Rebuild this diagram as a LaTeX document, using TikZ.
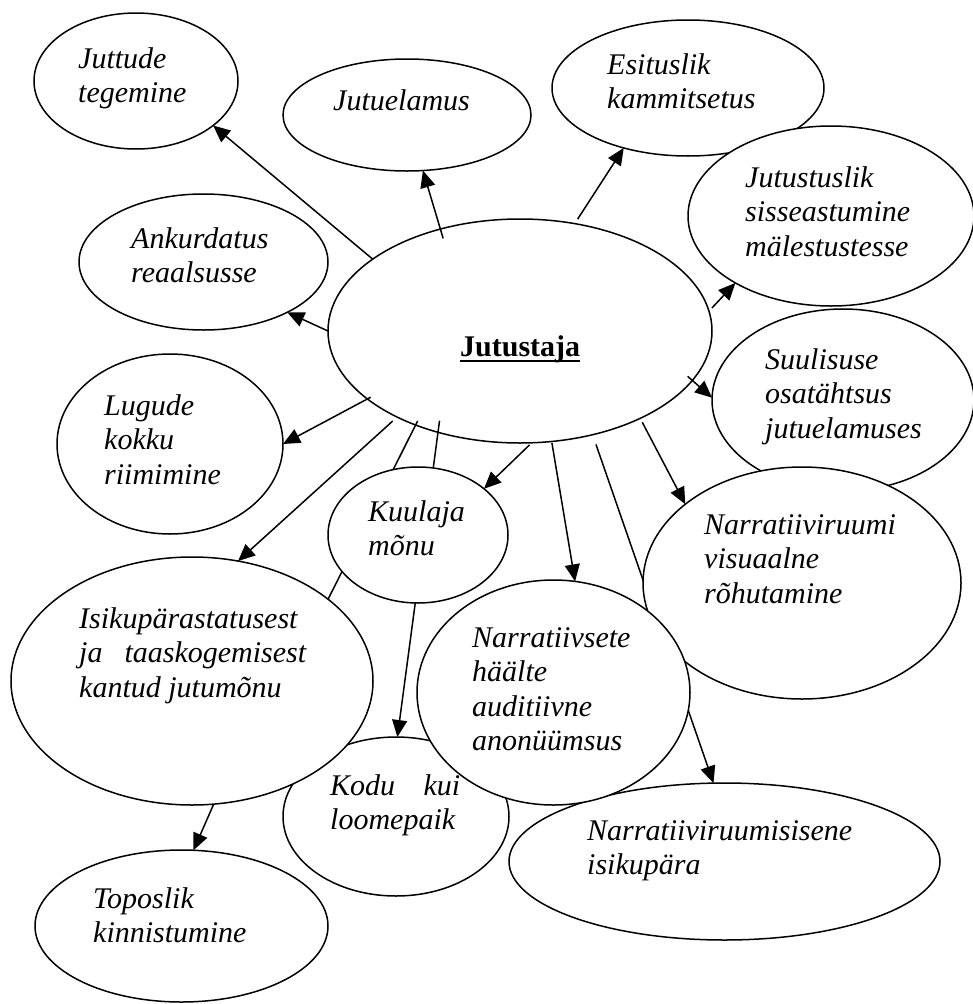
\documentclass[tikz,border=0pt]{standalone}
\usepackage{fontspec}
\setmainfont{Liberation Serif}
\usetikzlibrary{shapes.geometric,arrows.meta}
\pgfdeclarelayer{base}
\pgfdeclarelayer{links}
\pgfdeclarelayer{labels}
\pgfsetlayers{base,links,main,labels}
\begin{document}
\begin{tikzpicture}[x=1pt,y=-1pt,
  oval/.style={ellipse,draw,fill=white,line width=1.5pt,inner sep=0pt,outer sep=0pt},
  txt/.style={anchor=base west,inner sep=0pt,font=\fontsize{30}{34.5}\selectfont\itshape},
  conn/.style={line width=1.5pt},
  arrowed/.style={conn,-{Triangle[length=17pt,width=15pt]}},
]
\useasboundingbox (0,0) rectangle (973,1004);

% central ellipse, lowest in the stack
\begin{pgfonlayer}{base}
\node[oval,minimum width=384pt,minimum height=224pt] (jut) at (520,331) {};
\end{pgfonlayer}

% surrounding ellipses, in stacking order
\node[oval,minimum width=204pt,minimum height=136pt] (juttude) at (136,81) {};
\node[oval,minimum width=248pt,minimum height=112pt] (jutuel) at (407,115) {};
\node[oval,minimum width=272pt,minimum height=136pt] (esit) at (688,88) {};
\node[oval,minimum width=286pt,minimum height=180pt] (jutust) at (831,216) {};
\node[oval,minimum width=262pt,minimum height=182pt] (suul) at (843,400) {};
\node[oval,minimum width=318pt,minimum height=232pt] (nrv) at (802,583) {};
\node[oval,minimum width=431pt,minimum height=157pt] (nrs) at (724.5,861.5) {};
\node[oval,minimum width=226pt,minimum height=159pt] (kodu) at (396,816.5) {};
\node[oval,minimum width=273pt,minimum height=225pt] (nvh) at (553.5,692.5) {};
\node[oval,minimum width=362pt,minimum height=248pt] (isik) at (192,681) {};
\node[oval,minimum width=293pt,minimum height=152pt] (topos) at (181.5,926) {};
\node[oval,minimum width=180pt,minimum height=136pt] (kuul) at (418,535) {};
\node[oval,minimum width=226pt,minimum height=180pt] (lugude) at (170,444) {};
\node[oval,minimum width=249pt,minimum height=136pt] (ankur) at (203.5,262) {};

% texts on top of everything
\begin{pgfonlayer}{labels}
\node[anchor=base west,inner sep=0pt,font=\fontsize{30}{34.5}\selectfont\bfseries] (jutt) at (460,356) {Jutustaja};
\draw[line width=2.7pt] ([yshift=-5pt]jutt.base west) -- ([yshift=-5pt]jutt.base east);
\node[txt] (t-juttude) at (78,68) {\vtop{\hbox{Juttude}\hbox{tegemine}}};
\node[txt] (t-jutuel) at (333,110) {Jutuelamus};
\node[txt] (t-esit) at (607,74) {\vtop{\hbox{Esituslik}\hbox{kammitsetus}}};
\node[txt] (t-jutust) at (745,187) {\vtop{\hbox{Jutustuslik}\hbox{sisseastumine}\hbox{mälestustesse}}};
\node[txt] (t-suul) at (765,369) {\vtop{\hbox{Suulisuse}\hbox{osatähtsus}\hbox{jutuelamuses}}};
\node[txt] (t-nrv) at (704,534) {\vtop{\hbox{Narratiiviruumi}\hbox{visuaalne}\hbox{rõhutamine}}};
\node[txt] (t-nrs) at (587,840) {\vtop{\hbox{Narratiiviruumisisene}\hbox{isikupära}}};
\node[txt] (t-kodu) at (330,795) {\vtop{\hbox to 130pt{Kodu\hfill kui}\hbox{loomepaik}}};
\node[txt] (t-nvh) at (472,647) {\vtop{\hbox{Narratiivsete}\hbox{häälte}\hbox{auditiivne}\hbox{anonüümsus}}};
\node[txt] (t-isik) at (79,628) {\vtop{\hbox{Isikupärastatusest}\hbox to 227pt{ja\hfill taaskogemisest}\hbox{kantud jutumõnu}}};
\node[txt] (t-topos) at (93,908) {\vtop{\hbox{Toposlik}\hbox{kinnistumine}}};
\node[txt] (t-kuul) at (368,521) {\vtop{\hbox{Kuulaja}\hbox{mõnu}}};
\node[txt] (t-lugude) at (104,415) {\vtop{\hbox{Lugude}\hbox{kokku}\hbox{riimimine}}};
\node[txt] (t-ankur) at (131,248) {\vtop{\hbox{Ankurdatus}\hbox{reaalsusse}}};
\end{pgfonlayer}

% connectors, above the central ellipse and below the others
\begin{pgfonlayer}{links}
\draw[arrowed] (jut.154.9) -- (juttude.330.4);
\draw[arrowed,shorten <=-9.7pt] (jut.128.75) -- (jutuel.286.6);
\draw[arrowed,shorten <=5.4pt] (jut.63.3) -- (esit.223.3);
\draw[arrowed,shorten <=4.3pt] (jut.6.04) -- (jutust.215.9);
\draw[arrowed,shorten <=-6.2pt] (jut.344.05) -- (suul.179.1);
\draw[arrowed] (jut.180) -- (ankur.329.6);
\draw[arrowed,shorten <=-3.7pt] (jut.204.85) -- (lugude.0);
\draw[arrowed,shorten <=5.9pt] (jut.215.9) -- (isik.69.6);
\draw[conn,shorten <=-4.6pt] (jut.222.1) -- (isik.31.9);
\draw[arrowed,shorten <=-11.7pt] (jut.231.6) -- (kodu.89.3);
\draw[arrowed,shorten <=3.1pt] (jut.276.2) -- (kuul.35.1);
\draw[arrowed,shorten <=1.5pt] (jut.286.5) -- (nvh.79.4);
\draw[arrowed,shorten <=10.3pt] (jut.305.94) -- (nrs.98.9);
\draw[arrowed,shorten <=4.5pt] (jut.324.3) -- (nrv.146.2);
\draw[arrowed] (isik.280.5) -- (topos.81.4);
\end{pgfonlayer}
\end{tikzpicture}
\end{document}
